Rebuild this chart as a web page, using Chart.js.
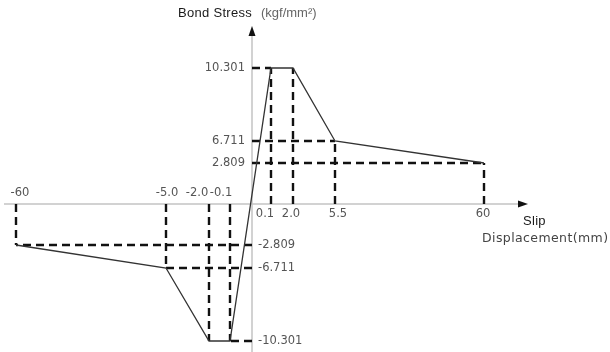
<!DOCTYPE html>
<html>
<head>
<meta charset="utf-8">
<script src="https://cdn.jsdelivr.net/npm/chart.js@4.4.1/dist/chart.umd.min.js"></script>
<style>
  html, body { margin: 0; padding: 0; background: #fff; }
</style>
</head>
<body>
<canvas id="bond-chart" width="610" height="352"></canvas>
<script>
// Bond stress - slip curve (kgf/mm2 vs mm)
const slip = [-60, -5.0, -2.0, -0.1, 0.1, 2.0, 5.5, 60];
const stress = [-2.809, -6.711, -10.301, -10.301, 10.301, 10.301, 6.711, 2.809];

// Tick labels
const slipTicks = [-60, -5.0, -2.0, -0.1, 0.1, 2.0, 5.5, 60];
const slipTickText = ["-60", "-5.0", "-2.0", "-0.1", "0.1", "2.0", "5.5", "60"];
const stressTicks = [-10.301, -6.711, -2.809, 2.809, 6.711, 10.301];
const stressTickText = ["-10.301", "-6.711", "-2.809", "2.809", "6.711", "10.301"];

// The drawing is schematic: the axes are not proportional.
// Each axis maps its breakpoints onto pixel positions of the 610x352 figure.
const xLayout = {
  values: [-60, -5, -2, -0.1, 0, 0.1, 2, 5.5, 60],
  pixels: [16, 166, 209, 230, 252, 271, 293, 335, 484],
};
const yLayout = {
  values: [-10.301, -6.711, -2.809, 0, 2.809, 6.711, 10.301],
  pixels: [341, 268, 245, 204, 163, 141, 68],
};
// small horizontal nudges of the slip labels (crowded near the origin)
const slipLabelShift = [4, 1, -12, -9, -6, -2, 3, -1];

function interp(v, from, to) {
  let i = 0;
  while (i < from.length - 2 && v > from[i + 1]) i++;
  const t = (v - from[i]) / (from[i + 1] - from[i]);
  return to[i] + t * (to[i + 1] - to[i]);
}

class SchematicScale extends Chart.LinearScale {
  layout() {
    return this.axis === "x" ? xLayout : yLayout;
  }
  getPixelForValue(value) {
    const { values, pixels } = this.layout();
    const p = interp(value, values, pixels);
    return this.axis === "x"
      ? this.left + (p * this.width) / 610
      : this.top + (p * this.height) / 352;
  }
  getValueForPixel(pixel) {
    const { values, pixels } = this.layout();
    const p = this.axis === "x"
      ? ((pixel - this.left) * 610) / this.width
      : ((pixel - this.top) * 352) / this.height;
    if (this.axis === "x") return interp(p, pixels, values);
    return interp(-p, pixels.map((v) => -v), values);
  }
}
SchematicScale.id = "schematic";
SchematicScale.defaults = Chart.LinearScale.defaults;
Chart.register(SchematicScale);

// Curve points
const curve = slip.map((x, i) => ({ x, y: stress[i] }));

// Dashed guide lines from each point to both axes
// (horizontal guide only for the point nearest the axis at each level)
const guides = [];
curve.forEach((p) => {
  guides.push({ data: [{ x: p.x, y: 0 }, p] });
  const nearest = curve
    .filter((q) => q.y === p.y)
    .every((q) => Math.abs(q.x) >= Math.abs(p.x));
  if (nearest) guides.push({ data: [{ x: 0, y: p.y }, p] });
});

const datasets = [
  {
    label: "Bond stress",
    data: curve,
    borderColor: "#333",
    borderWidth: 1.3,
    pointRadius: 0,
    fill: false,
  },
].concat(
  guides.map((g) => ({
    data: g.data,
    borderColor: "#111",
    borderWidth: 2.4,
    borderDash: [8, 5],
    borderCapStyle: "butt",
    pointRadius: 0,
    fill: false,
  }))
);

// Axes with arrows, tick labels and titles
const axesPlugin = {
  id: "axesPlugin",
  beforeDatasetsDraw(chart) {
    const { ctx, scales } = chart;
    const x0 = scales.x.getPixelForValue(0);
    const y0 = scales.y.getPixelForValue(0);
    ctx.save();
    ctx.strokeStyle = "#c4c4c4";
    ctx.lineWidth = 1.5;
    ctx.beginPath();
    ctx.moveTo(x0, 32);
    ctx.lineTo(x0, 352);
    ctx.moveTo(4, y0);
    ctx.lineTo(522, y0);
    ctx.stroke();

    ctx.fillStyle = "#111";
    ctx.beginPath();
    ctx.moveTo(x0, 26);
    ctx.lineTo(x0 - 3.5, 36);
    ctx.lineTo(x0 + 3.5, 36);
    ctx.closePath();
    ctx.fill();
    ctx.beginPath();
    ctx.moveTo(528, y0);
    ctx.lineTo(518, y0 - 3.5);
    ctx.lineTo(518, y0 + 3.5);
    ctx.closePath();
    ctx.fill();
    ctx.restore();
  },
  afterDraw(chart) {
    const { ctx, scales } = chart;
    const x0 = scales.x.getPixelForValue(0);
    const y0 = scales.y.getPixelForValue(0);
    ctx.save();
    ctx.font = "11.5px 'DejaVu Sans'";
    ctx.fillStyle = "#555";
    ctx.textBaseline = "middle";
    ctx.textAlign = "center";

    slipTicks.forEach((v, i) => {
      const px = scales.x.getPixelForValue(v) + slipLabelShift[i];
      ctx.fillText(slipTickText[i], px, v < 0 ? y0 - 11 : y0 + 10);
    });
    stressTicks.forEach((v, i) => {
      const py = scales.y.getPixelForValue(v);
      if (v > 0) {
        ctx.textAlign = "right";
        ctx.fillText(stressTickText[i], x0 - 7, py);
      } else {
        ctx.textAlign = "left";
        ctx.fillText(stressTickText[i], x0 + 6, py);
      }
    });

    // titles
    ctx.textAlign = "left";
    ctx.fillStyle = "#1a1a1a";
    ctx.font = "13px 'Liberation Sans'";
    ctx.letterSpacing = "0.3px";
    ctx.fillText("Bond Stress", 178, 13);
    ctx.fillStyle = "#666";
    ctx.letterSpacing = "0px";
    ctx.font = "13px 'Liberation Sans'";
    ctx.fillText("(kgf/mm²)", 261, 13);

    ctx.fillStyle = "#1a1a1a";
    ctx.letterSpacing = "0.3px";
    ctx.fillText("Slip", 523, 221);
    ctx.fillStyle = "#444";
    ctx.font = "12.5px 'DejaVu Sans'";
    ctx.letterSpacing = "0.4px";
    ctx.fillText("Displacement(mm)", 482, 239);
    ctx.restore();
  },
};

new Chart(document.getElementById("bond-chart"), {
  type: "line",
  data: { datasets },
  options: {
    responsive: false,
    animation: false,
    parsing: false,
    layout: { padding: 0 },
    plugins: {
      legend: { display: false },
      tooltip: { enabled: false },
    },
    scales: {
      x: { type: "schematic", display: false, min: -60, max: 60 },
      y: { type: "schematic", display: false, min: -10.301, max: 10.301 },
    },
  },
  plugins: [axesPlugin],
});
</script>
</body>
</html>
